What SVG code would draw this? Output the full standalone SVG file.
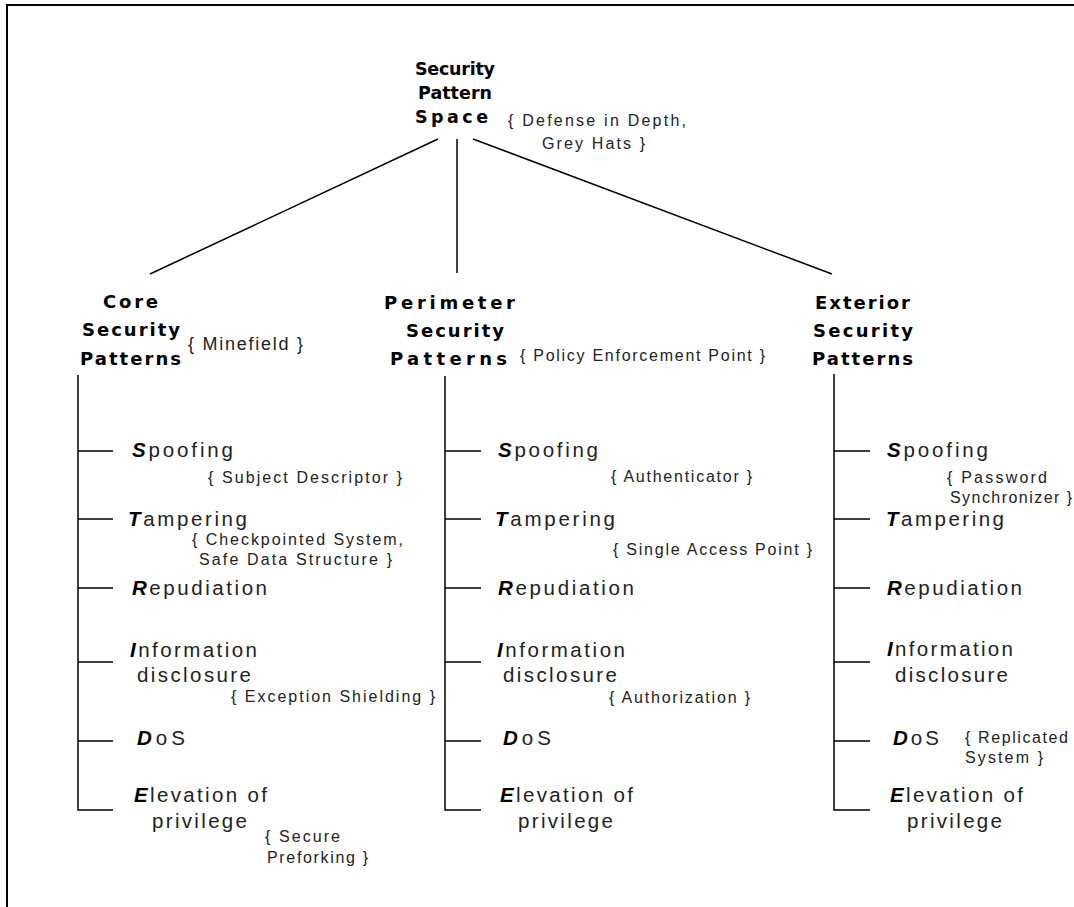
<svg xmlns="http://www.w3.org/2000/svg" width="1074" height="907" viewBox="0 0 1074 907">
<style>
.h{font-family:"DejaVu Sans",Verdana,sans-serif;font-weight:bold;font-size:18px;fill:#000}
.t{font-family:"DejaVu Sans",Verdana,sans-serif;font-weight:bold;font-size:17.5px;fill:#000}
.w{font-family:"Liberation Sans",Arial,sans-serif;font-size:20.5px;fill:#222}
.p{font-family:"Liberation Sans",Arial,sans-serif;font-size:16px;fill:#222}
.m{font-family:"Liberation Sans",Arial,sans-serif;font-size:18px;fill:#222}
.b{font-weight:bold;font-style:italic;fill:#000}
.ln{stroke:#000;stroke-width:1.5;fill:none}
.frame{stroke:#000;stroke-width:2;fill:none}
</style>
<rect width="1074" height="907" fill="#fff"/>
<path class="frame" d="M7,907 V5 H1074"/>

<g id="connectors">
  <line class="ln" x1="438" y1="139" x2="150" y2="274"/>
  <line class="ln" x1="457" y1="139" x2="457" y2="273"/>
  <line class="ln" x1="473" y1="139" x2="832" y2="274"/>
  <path class="ln" d="M78,375 V810 H113 M78,451 H113 M78,519 H113 M78,588 H113 M78,662 H113 M78,741 H113"/>
  <path class="ln" d="M445,376 V810 H481 M445,451 H481 M445,519 H481 M445,588 H481 M445,662 H481 M445,741 H481"/>
  <path class="ln" d="M834,374 V810 H870 M834,451 H870 M834,519 H870 M834,588 H870 M834,662 H870 M834,741 H870"/>
</g>

<g id="root">
  <text class="t" x="415" y="75" textLength="80" lengthAdjust="spacing">Security</text>
  <text class="t" x="418" y="99" textLength="74" lengthAdjust="spacing">Pattern</text>
  <text class="t" x="415" y="123" textLength="73" lengthAdjust="spacing">Space</text>
  <text class="p" x="508" y="126" textLength="178" lengthAdjust="spacing">{ Defense in Depth,</text>
  <text class="p" x="542" y="149" textLength="103" lengthAdjust="spacing">Grey Hats }</text>
</g>

<g id="core">
  <text class="h" x="103" y="308" textLength="55" lengthAdjust="spacing">Core</text>
  <text class="h" x="82" y="336" textLength="98" lengthAdjust="spacing">Security</text>
  <text class="h" x="80" y="365" textLength="101" lengthAdjust="spacing">Patterns</text>
  <text class="m" x="188" y="350" textLength="115" lengthAdjust="spacing">{ Minefield }</text>
</g>
<g id="core-items">
  <text class="w" x="132" y="457" textLength="101" lengthAdjust="spacing"><tspan class="b">S</tspan>poofing</text>
  <text class="p" x="208" y="483" textLength="194" lengthAdjust="spacing">{ Subject Descriptor  }</text>
  <text class="w" x="128" y="526" textLength="119" lengthAdjust="spacing"><tspan class="b">T</tspan>ampering</text>
  <text class="p" x="192" y="545" textLength="211" lengthAdjust="spacing">{ Checkpointed System,</text>
  <text class="p" x="199" y="565" textLength="193" lengthAdjust="spacing">Safe Data Structure  }</text>
  <text class="w" x="132" y="595" textLength="135" lengthAdjust="spacing"><tspan class="b">R</tspan>epudiation</text>
  <text class="w" x="130" y="657" textLength="127" lengthAdjust="spacing"><tspan class="b">I</tspan>nformation</text>
  <text class="w" x="137" y="682" textLength="114" lengthAdjust="spacing">disclosure</text>
  <text class="p" x="231" y="702" textLength="204" lengthAdjust="spacing">{ Exception Shielding  }</text>
  <text class="w" x="137" y="745" textLength="48" lengthAdjust="spacing"><tspan class="b">D</tspan>oS</text>
  <text class="w" x="134" y="802" textLength="133" lengthAdjust="spacing"><tspan class="b">E</tspan>levation of</text>
  <text class="w" x="152" y="828" textLength="95" lengthAdjust="spacing">privilege</text>
  <text class="p" x="265" y="842" textLength="75" lengthAdjust="spacing">{ Secure</text>
  <text class="p" x="267" y="863" textLength="101" lengthAdjust="spacing">Preforking }</text>
</g>

<g id="perimeter">
  <text class="h" x="384" y="309" textLength="131" lengthAdjust="spacing">Perimeter</text>
  <text class="h" x="406" y="337" textLength="98" lengthAdjust="spacing">Security</text>
  <text class="h" x="390" y="365" textLength="117" lengthAdjust="spacing">Patterns</text>
  <text class="p" x="520" y="361" textLength="245" lengthAdjust="spacing">{ Policy Enforcement Point }</text>
</g>
<g id="perimeter-items">
  <text class="w" x="498" y="457" textLength="100" lengthAdjust="spacing"><tspan class="b">S</tspan>poofing</text>
  <text class="p" x="611" y="482" textLength="141" lengthAdjust="spacing">{ Authenticator }</text>
  <text class="w" x="495" y="526" textLength="120" lengthAdjust="spacing"><tspan class="b">T</tspan>ampering</text>
  <text class="p" x="613" y="555" textLength="199" lengthAdjust="spacing">{ Single Access Point }</text>
  <text class="w" x="498" y="595" textLength="136" lengthAdjust="spacing"><tspan class="b">R</tspan>epudiation</text>
  <text class="w" x="497" y="657" textLength="128" lengthAdjust="spacing"><tspan class="b">I</tspan>nformation</text>
  <text class="w" x="503" y="682" textLength="114" lengthAdjust="spacing">disclosure</text>
  <text class="p" x="609" y="703" textLength="141" lengthAdjust="spacing">{ Authorization }</text>
  <text class="w" x="503" y="745" textLength="48" lengthAdjust="spacing"><tspan class="b">D</tspan>oS</text>
  <text class="w" x="500" y="802" textLength="133" lengthAdjust="spacing"><tspan class="b">E</tspan>levation of</text>
  <text class="w" x="518" y="828" textLength="95" lengthAdjust="spacing">privilege</text>
</g>

<g id="exterior">
  <text class="h" x="815" y="309" textLength="95" lengthAdjust="spacing">Exterior</text>
  <text class="h" x="813" y="337" textLength="100" lengthAdjust="spacing">Security</text>
  <text class="h" x="812" y="365" textLength="101" lengthAdjust="spacing">Patterns</text>
</g>
<g id="exterior-items">
  <text class="w" x="887" y="457" textLength="101" lengthAdjust="spacing"><tspan class="b">S</tspan>poofing</text>
  <text class="p" x="947" y="483" textLength="100" lengthAdjust="spacing">{ Password</text>
  <text class="p" x="950" y="503" textLength="122" lengthAdjust="spacing">Synchronizer }</text>
  <text class="w" x="886" y="526" textLength="118" lengthAdjust="spacing"><tspan class="b">T</tspan>ampering</text>
  <text class="w" x="887" y="595" textLength="135" lengthAdjust="spacing"><tspan class="b">R</tspan>epudiation</text>
  <text class="w" x="887" y="656" textLength="126" lengthAdjust="spacing"><tspan class="b">I</tspan>nformation</text>
  <text class="w" x="895" y="682" textLength="113" lengthAdjust="spacing">disclosure</text>
  <text class="w" x="893" y="745" textLength="46" lengthAdjust="spacing"><tspan class="b">D</tspan>oS</text>
  <text class="p" x="965" y="743" textLength="103" lengthAdjust="spacing">{ Replicated</text>
  <text class="p" x="965" y="763" textLength="78" lengthAdjust="spacing">System }</text>
  <text class="w" x="890" y="802" textLength="133" lengthAdjust="spacing"><tspan class="b">E</tspan>levation of</text>
  <text class="w" x="907" y="828" textLength="95" lengthAdjust="spacing">privilege</text>
</g>
</svg>
